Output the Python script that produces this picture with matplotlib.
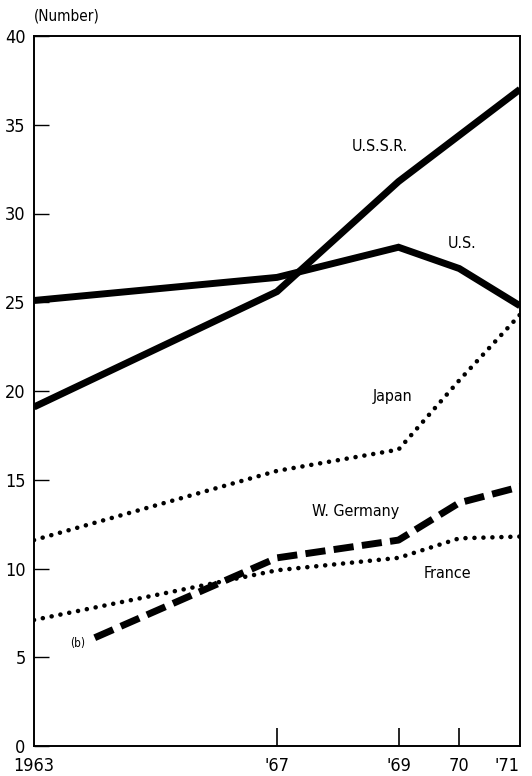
import matplotlib
matplotlib.use("Agg")
import matplotlib.pyplot as plt

plt.rcParams['font.family'] = ['DejaVu Sans']
plt.rcParams['font.stretch'] = 'condensed'

# ─── data ────────────────────────────────────────────────────────────────────
years = [1963, 1967, 1969, 1970, 1971]
ussr = [19.1, 25.6, 31.8, 34.4, 37.0]
us = [25.1, 26.4, 28.1, 26.9, 24.8]
japan = [11.6, 15.5, 16.7, 20.6, 24.3]
france = [7.1, 9.9, 10.6, 11.7, 11.8]
wg_years = [1964, 1967, 1969, 1970, 1971]
w_germany = [6.1, 10.6, 11.6, 13.7, 14.6]

xtick_pos = [1963, 1967, 1969, 1970, 1971]
xtick_labels = ['1963', "'67", "'69", '70', "'71"]
yticks = [0, 5, 10, 15, 20, 25, 30, 35, 40]

fig = plt.figure(figsize=(5.32, 7.76), dpi=100)
ax = fig.add_axes([34 / 532, 30 / 776, 486 / 532, 710 / 776])

solid = dict(color='black', lw=5.0, solid_capstyle='butt', solid_joinstyle='miter')
dots = dict(color='black', lw=3.3, linestyle=(0, (0.01, 1.95)),
            dash_capstyle='round')

ax.plot(years, ussr, **solid)
ax.plot(years, us, **solid)
ax.plot(years, japan, **dots)
ax.plot(years, france, **dots)
ax.plot(wg_years, w_germany, color='black', lw=5.0, linestyle=(0, (2.9, 1.2)),
        dash_capstyle='butt')

ax.set_xlim(1963, 1971)
ax.set_ylim(0, 40)

for s in ax.spines.values():
    s.set_linewidth(1.4)

ax.set_yticks(yticks)
ax.set_yticklabels([str(v) for v in yticks], fontsize=13)
ax.tick_params(axis='y', direction='in', length=11, width=1.0, pad=6)

ax.set_xticks(xtick_pos)
ax.set_xticklabels(xtick_labels, fontsize=13)
ax.tick_params(axis='x', direction='in', length=13, width=1.2, pad=8)
xt = ax.xaxis.get_major_ticks()
xt[0].tick1line.set_visible(False)
xt[-1].tick1line.set_visible(False)
ax.get_xticklabels()[-1].set_horizontalalignment('right')
ax.get_xticklabels()[-1].set_x(1971.08)

ax.text(0.0, 1.018, '(Number)', transform=ax.transAxes, fontsize=11,
        ha='left', va='bottom')

lbl = dict(fontsize=11.5, ha='center', va='center')
ax.text(1968.7, 33.8, 'U.S.S.R.', **lbl)
ax.text(1970.05, 28.3, 'U.S.', **lbl)
ax.text(1968.9, 19.7, 'Japan', **lbl)
ax.text(1968.3, 13.2, 'W. Germany', **lbl)
ax.text(1969.8, 9.7, 'France', **lbl)
ax.text(1963.72, 5.8, '(b)', fontsize=8.5, ha='center', va='center')

fig.savefig('out.png', dpi=100)
